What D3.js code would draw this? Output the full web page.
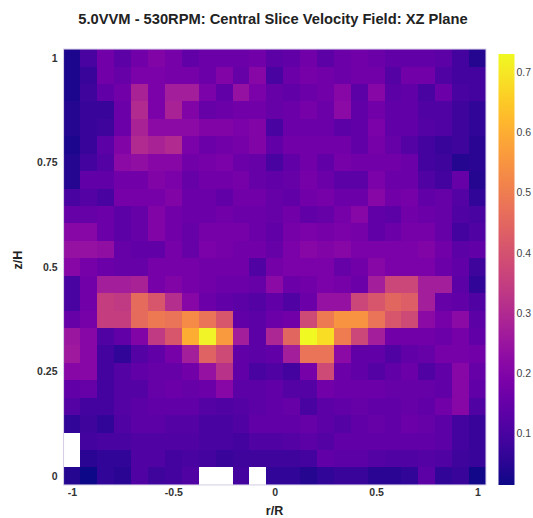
<!DOCTYPE html>
<html><head><meta charset="utf-8">
<script src="https://cdn.jsdelivr.net/npm/d3@7"></script>
<style>body{margin:0;background:#fff} svg{display:block;font-family:"Liberation Sans",Arial,sans-serif}</style>
</head><body><svg id="c" width="533" height="518"></svg>
<script>
// r/R cell centres (columns) and z/H cell centres (rows, top to bottom)
const rCenters = [-1,-0.9167,-0.8333,-0.75,-0.6667,-0.5833,-0.5,-0.4167,-0.3333,-0.25,-0.1667,-0.0833,0,0.0833,0.1667,0.25,0.3333,0.4167,0.5,0.5833,0.6667,0.75,0.8333,0.9167,1];
const zCenters = [1,0.9583,0.9167,0.875,0.8333,0.7917,0.75,0.7083,0.6667,0.625,0.5833,0.5417,0.5,0.4583,0.4167,0.375,0.3333,0.2917,0.25,0.2083,0.1667,0.125,0.0833,0.0417,0];
const cellR = 0.0833, cellZ = 0.0417;
// velocity magnitude, one array per row (z from 1 down to 0); null = no data
const velocity = [
[0.03,0.10,0.17,0.13,0.17,0.20,0.18,0.14,0.16,0.16,0.16,0.17,0.13,0.14,0.17,0.13,0.16,0.17,0.16,0.14,0.14,0.14,0.13,0.09,0.04],
[0.03,0.07,0.17,0.15,0.19,0.19,0.18,0.18,0.16,0.20,0.15,0.21,0.10,0.16,0.18,0.17,0.16,0.17,0.17,0.12,0.17,0.17,0.11,0.09,0.09],
[0.03,0.08,0.14,0.17,0.28,0.19,0.27,0.27,0.19,0.14,0.24,0.19,0.15,0.14,0.16,0.17,0.21,0.13,0.21,0.13,0.14,0.10,0.16,0.10,0.09],
[0.04,0.07,0.07,0.16,0.30,0.19,0.28,0.20,0.15,0.16,0.17,0.17,0.15,0.16,0.18,0.16,0.22,0.14,0.17,0.14,0.14,0.11,0.11,0.08,0.06],
[0.04,0.07,0.08,0.16,0.28,0.22,0.22,0.22,0.20,0.20,0.19,0.20,0.10,0.16,0.16,0.16,0.13,0.14,0.19,0.14,0.14,0.12,0.11,0.08,0.06],
[0.03,0.07,0.13,0.20,0.30,0.28,0.30,0.19,0.16,0.17,0.18,0.20,0.14,0.17,0.17,0.17,0.17,0.14,0.18,0.15,0.12,0.09,0.07,0.08,0.05],
[0.04,0.09,0.12,0.22,0.23,0.21,0.21,0.17,0.18,0.19,0.16,0.15,0.10,0.14,0.17,0.14,0.18,0.17,0.17,0.17,0.16,0.09,0.08,0.04,0.05],
[0.04,0.14,0.14,0.17,0.17,0.20,0.19,0.15,0.17,0.17,0.18,0.15,0.14,0.15,0.18,0.16,0.13,0.13,0.19,0.16,0.16,0.11,0.09,0.15,0.04],
[0.10,0.12,0.10,0.18,0.18,0.18,0.20,0.16,0.16,0.14,0.17,0.17,0.15,0.14,0.17,0.18,0.16,0.16,0.21,0.17,0.18,0.14,0.15,0.12,0.06],
[0.15,0.15,0.16,0.13,0.15,0.20,0.17,0.16,0.16,0.17,0.16,0.16,0.15,0.17,0.14,0.15,0.18,0.21,0.14,0.13,0.17,0.16,0.15,0.11,0.10],
[0.21,0.21,0.16,0.13,0.15,0.20,0.17,0.15,0.18,0.18,0.18,0.16,0.14,0.18,0.19,0.18,0.19,0.18,0.14,0.16,0.18,0.18,0.15,0.09,0.11],
[0.24,0.24,0.23,0.15,0.14,0.14,0.18,0.15,0.19,0.18,0.17,0.17,0.15,0.19,0.21,0.20,0.21,0.19,0.19,0.19,0.19,0.20,0.17,0.13,0.14],
[0.21,0.18,0.16,0.15,0.15,0.18,0.18,0.18,0.17,0.17,0.17,0.11,0.175,0.19,0.19,0.19,0.15,0.17,0.21,0.19,0.19,0.19,0.16,0.14,0.08],
[0.10,0.17,0.27,0.27,0.28,0.18,0.20,0.18,0.17,0.16,0.16,0.15,0.22,0.16,0.17,0.19,0.18,0.16,0.27,0.37,0.37,0.27,0.27,0.13,0.06],
[0.10,0.17,0.35,0.34,0.46,0.41,0.31,0.21,0.16,0.14,0.13,0.12,0.14,0.11,0.16,0.24,0.24,0.37,0.41,0.45,0.43,0.27,0.15,0.14,0.11],
[0.15,0.18,0.35,0.35,0.46,0.49,0.48,0.53,0.48,0.41,0.14,0.13,0.16,0.17,0.38,0.49,0.55,0.55,0.48,0.41,0.38,0.22,0.18,0.22,0.13],
[0.25,0.21,0.11,0.14,0.20,0.34,0.41,0.60,0.72,0.56,0.27,0.13,0.29,0.45,0.73,0.68,0.50,0.37,0.27,0.17,0.17,0.17,0.16,0.18,0.14],
[0.26,0.21,0.09,0.06,0.12,0.14,0.18,0.27,0.44,0.38,0.14,0.13,0.14,0.27,0.48,0.48,0.22,0.14,0.14,0.11,0.14,0.15,0.18,0.18,0.17],
[0.21,0.21,0.09,0.12,0.14,0.15,0.15,0.17,0.24,0.32,0.14,0.10,0.11,0.09,0.18,0.38,0.16,0.14,0.12,0.14,0.16,0.11,0.14,0.21,0.15],
[0.14,0.15,0.09,0.12,0.12,0.15,0.16,0.15,0.16,0.21,0.13,0.13,0.14,0.12,0.12,0.17,0.16,0.16,0.16,0.15,0.15,0.15,0.14,0.21,0.14],
[0.12,0.09,0.09,0.12,0.13,0.14,0.14,0.14,0.12,0.11,0.12,0.13,0.14,0.15,0.10,0.13,0.14,0.15,0.14,0.14,0.15,0.14,0.17,0.21,0.11],
[0.06,0.08,0.06,0.11,0.13,0.13,0.12,0.12,0.10,0.10,0.11,0.14,0.14,0.14,0.15,0.13,0.12,0.14,0.15,0.14,0.16,0.15,0.13,0.09,0.07],
[null,0.09,0.10,0.10,0.11,0.11,0.11,0.11,0.10,0.10,0.09,0.11,0.11,0.12,0.13,0.12,0.14,0.14,0.14,0.14,0.14,0.14,0.13,0.09,0.07],
[null,0.05,0.06,0.06,0.11,0.11,0.09,0.10,0.09,0.07,0.08,0.08,0.08,0.08,0.09,0.14,0.13,0.13,0.12,0.11,0.11,0.12,0.11,0.08,0.07],
[0.04,0.014,0.06,0.05,0.11,0.08,0.09,0.11,null,null,0.09,null,0.06,0.06,0.04,0.06,0.07,0.07,0.05,0.05,0.06,0.13,0.06,0.07,0.02]
];
const xTicks = [-1,-0.5,0,0.5,1];
const xTickLabels = ["-1","-0.5","0","0.5","1"];
const zTicks = [0,0.25,0.5,0.75,1];
const zTickLabels = ["0","0.25","0.5","0.75","1"];
const cbTicks = [0.1,0.2,0.3,0.4,0.5,0.6,0.7];
const title = "5.0VVM - 530RPM: Central Slice Velocity Field: XZ Plane";

const svg = d3.select("#c");
const x = d3.scaleLinear().domain([-1,1]).range([72,477.5]);
const y = d3.scaleLinear().domain([0,1]).range([476.2,57.8]);
const all = velocity.flat().filter(v => v != null);
const ext = d3.extent(all);
const color = d3.scaleSequential(d3.interpolatePlasma).domain(ext);

const cells = [];
velocity.forEach((row,i) => row.forEach((v,j) => { if (v != null) cells.push({r:rCenters[j], z:zCenters[i], v}); }));

svg.append("g").attr("shape-rendering","crispEdges").selectAll("rect").data(cells).join("rect")
  .attr("x", d => x(d.r - cellR/2))
  .attr("y", d => y(d.z + cellZ/2))
  .attr("width", d => x(d.r + cellR/2) - x(d.r - cellR/2))
  .attr("height", d => y(d.z - cellZ/2) - y(d.z + cellZ/2))
  .attr("fill", d => color(d.v));

// plot frame
svg.append("rect")
  .attr("x", x(-1 - cellR/2)).attr("y", y(1 + cellZ/2))
  .attr("width", x(1 + cellR/2) - x(-1 - cellR/2))
  .attr("height", y(0 - cellZ/2) - y(1 + cellZ/2))
  .attr("fill","none").attr("stroke","#d4cbe6").attr("stroke-width",1);

const xAxis = svg.append("g").attr("transform",`translate(0,${y(-cellZ/2)})`)
  .call(d3.axisBottom(x).tickValues(xTicks).tickFormat((d,i)=>xTickLabels[i]).tickSize(0).tickPadding(4));
const yAxis = svg.append("g").attr("transform",`translate(${x(-1-cellR/2)},0)`)
  .call(d3.axisLeft(y).tickValues(zTicks).tickFormat((d,i)=>zTickLabels[i]).tickSize(0).tickPadding(6));
[xAxis,yAxis].forEach(g => {
  g.select(".domain").remove();
  g.selectAll("text").attr("font-family","Liberation Sans, Arial, sans-serif")
    .attr("font-size","10.5px").attr("font-weight","bold").attr("fill","#333");
});

// colorbar
const cbX = 498.5, cbW = 16, cbTop = 54, cbBot = 485;
const cy = d3.scaleLinear().domain(ext).range([cbBot, cbTop]);
const grad = svg.append("defs").append("linearGradient").attr("id","cbg")
  .attr("x1",0).attr("y1",1).attr("x2",0).attr("y2",0);
d3.range(0,1.0001,0.05).forEach(t => grad.append("stop").attr("offset",t).attr("stop-color",d3.interpolatePlasma(t)));
svg.append("rect").attr("x",cbX).attr("y",cbTop).attr("width",cbW).attr("height",cbBot-cbTop).attr("fill","url(#cbg)");
const cbAxis = svg.append("g").attr("transform",`translate(${cbX+cbW},0)`)
  .call(d3.axisRight(cy).tickValues(cbTicks).tickFormat(d3.format(".1f")).tickSize(0).tickPadding(2));
cbAxis.select(".domain").remove();
cbAxis.selectAll("text").attr("font-family","Liberation Sans, Arial, sans-serif").attr("font-size","10.5px").attr("fill","#444");

// titles
svg.append("text").attr("x",273).attr("y",23.5).attr("text-anchor","middle")
  .attr("font-size","14.7px").attr("font-weight","bold").attr("fill","#222").text(title);
svg.append("text").attr("x",274.5).attr("y",515).attr("text-anchor","middle")
  .attr("font-size","12.5px").attr("font-weight","bold").attr("fill","#222").text("r/R");
svg.append("text").attr("transform","translate(21.5,260) rotate(-90)").attr("text-anchor","middle")
  .attr("font-size","12.5px").attr("font-weight","bold").attr("fill","#222").text("z/H");
</script></body></html>
